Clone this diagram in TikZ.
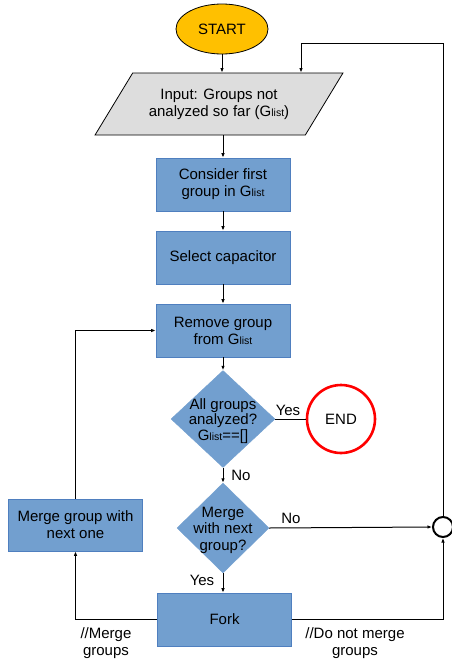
\documentclass[tikz,border=0pt]{standalone}
\usepackage{fontspec}
\setmainfont{Liberation Sans}
\usetikzlibrary{shapes.geometric,arrows.meta}
\definecolor{boxblue}{HTML}{729FCF}
\definecolor{boxedge}{HTML}{4F7FBF}
\definecolor{startfill}{HTML}{FFC000}
\definecolor{paragrey}{HTML}{DDDDDD}
\newcommand\glist{{\fontsize{10.5}{10.5}\selectfont list}}
\begin{document}
\begin{tikzpicture}[x=1pt,y=-1pt,
  font=\fontsize{15}{17}\selectfont,
  every node/.style={align=center},
  procbox/.style={rectangle, fill=boxblue, draw=boxedge, line width=0.6pt, minimum width=134pt, minimum height=53pt, inner sep=0pt},
  decbox/.style={diamond, fill=boxblue, draw=boxblue, inner sep=0pt},
  conn/.style={line width=1pt},
  arr/.style={conn, -{Latex[length=4.5pt,width=3.5pt]}},
  lbl/.style={inner sep=0pt}
]
\useasboundingbox (0,0) rectangle (452,667);
% nodes
\node[ellipse, fill=startfill, draw=black, line width=0.8pt, minimum width=92pt, minimum height=50pt, inner sep=0pt] (start) at (222,29) {START};
\node[trapezium, trapezium left angle=45, trapezium right angle=135, trapezium stretches=true, fill=paragrey, draw=black, line width=0.8pt, minimum width=248pt, minimum height=62pt, inner sep=0pt] (para) at (219,104) {Input: Groups not\\analyzed so far (G\glist)};
\node[procbox] (consider) at (223,184.5) {Consider first\\group in G\glist};
\node[procbox] (select) at (223,257.5) {Select capacitor};
\node[procbox] (remove) at (223,330.5) {Remove group\\from G\glist};
\node[decbox, minimum width=104pt, minimum height=97pt] (d1) at (223,419) {};
\node[lbl, font=\fontsize{15}{15.5}\selectfont] (d1t) at (223,421) {All groups\\analyzed?\\G\glist==[]};
\node[circle, draw=red, line width=2.6pt, fill=white, minimum size=68pt, inner sep=0pt] (end) at (341,419) {END};
\node[decbox, minimum width=92pt, minimum height=90pt] (d2) at (223,528) {};
\node[lbl, font=\fontsize{15}{16.5}\selectfont] (d2t) at (223,530) {Merge\\with next\\group?};
\node[procbox] (fork) at (224.5,619.5) {Fork};
\node[procbox, minimum height=52pt] (merge) at (75.5,525) {Merge group with\\next one};
\node[circle, draw=black, line width=2pt, fill=white, minimum size=20pt, inner sep=0pt] (circ) at (443,527) {};
\coordinate (loopc) at (301,43);
% connectors
\draw[arr] (start.south) -- (start.south |- para.north);
\draw[arr] (circ.north) |- (loopc) -- (loopc |- para.north);
\draw[arr] (consider.north |- para.south) -- (consider.north);
\draw[arr] (consider.south) -- (select.north);
\draw[arr] (select.south) -- (remove.north);
\draw[arr] (remove.south) -- (d1.north);
\draw[conn] (d1.east) -- (end.west);
\draw[arr] (d1.south) -- (d2.north);
\draw[arr] (d2.east) -- (circ.west);
\draw[arr] (d2.south) -- (d2.south |- fork.north);
\draw[arr] (fork.west) -| (merge.south);
\draw[arr] (merge.north) |- (remove.west);
\draw[arr] (fork.east) -| (circ.south);
% labels
\node[lbl] (yes1) at (288,410) {Yes};
\node[lbl] (no1) at (241,475) {No};
\node[lbl] (no2) at (291,518) {No};
\node[lbl] (yes2) at (202,580) {Yes};
\node[lbl] (mlab) at (106,643) {//Merge\\groups};
\node[lbl] (dlab) at (355,643) {//Do not merge\\groups};
\end{tikzpicture}
\end{document}
